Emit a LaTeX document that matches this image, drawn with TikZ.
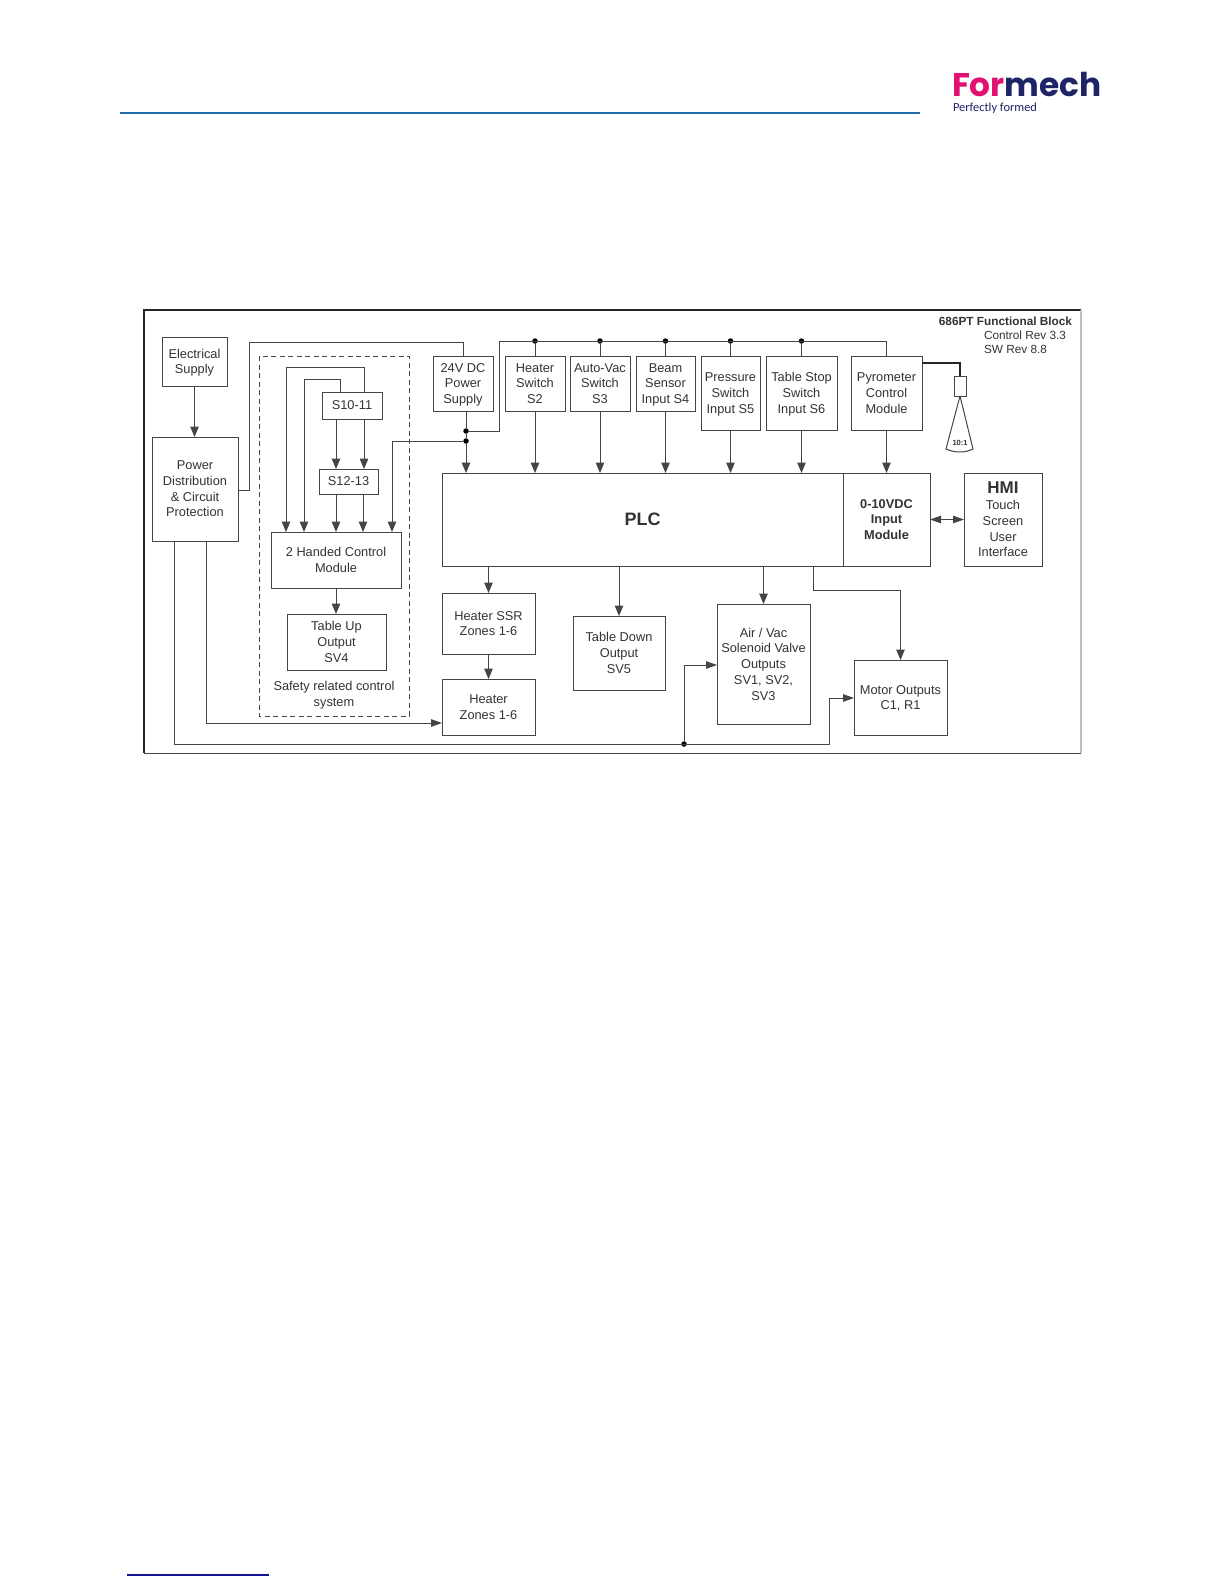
\documentclass[tikz,border=0pt]{standalone}
\usepackage{fontspec}
\setmainfont{Liberation Sans}
\newfontfamily\logofont{Poppins}
\newfontfamily\tagfont{Carlito}
\usepackage{xcolor}
\usetikzlibrary{arrows.meta,positioning,calc}
\definecolor{linegray}{gray}{0.27}
\definecolor{textgray}{gray}{0.2}
\definecolor{logopink}{HTML}{E2106F}
\definecolor{logonavy}{HTML}{1E2466}
\definecolor{headblue}{HTML}{1F6DAE}
\definecolor{footblue}{HTML}{12128C}

\begin{document}
\begin{tikzpicture}[
x=1pt,
y=-1pt,
every node/.style={font=\fontsize{12.8}{15.7}\selectfont,text=textgray},
block/.style={rectangle,draw=linegray,line width=1pt,fill=white,align=center,inner sep=0pt,outer sep=0pt,text depth=0pt},
plain/.style={align=center,inner sep=0pt,outer sep=0pt},
wire/.style={draw=linegray,line width=1pt},
arr/.style={wire,-{Triangle[length=10.5pt,width=8.5pt]}},
sidearr/.style={wire,-{Triangle[length=11pt,width=7.5pt]}},
dual/.style={wire,{Triangle[length=11pt,width=7.5pt]}-{Triangle[length=11pt,width=7.5pt]}},
dot/.style={circle,fill=black,inner sep=0pt,minimum size=5.5pt}
]
\useasboundingbox (0,0) rectangle (1224,1584);
\fill[white] (0,0) rectangle (1224,1584);

\coordinate (headl) at (120,113);
\coordinate (headr) at (920,113);
\coordinate (footl) at (127,1575);
\coordinate (footr) at (269,1575);
\draw[headblue,line width=1.5pt] (headl) -- (headr);
\draw[footblue,line width=1.1pt] (footl) -- (footr);
\node[plain,anchor=base west] (logo) at (952,97) {\fontsize{32.8}{33}\selectfont\logofont\bfseries\textcolor{logopink}{For}\textcolor{logonavy}{mech}};
\node[plain,anchor=base west] (tagline) at (953,112) {\fontsize{12.4}{13}\selectfont\tagfont\textcolor{logonavy}{Perfectly formed}};

\coordinate (frametl) at (144,310);
\coordinate (frametr) at (1081,310);
\coordinate (framebl) at (144,753);
\coordinate (framebr) at (1081,753);
\draw[black!85,line width=1.8pt] (framebl) -- (frametl) -- (frametr);
\draw[linegray,line width=1pt] (framebl) -- (framebr);
\draw[black!25,line width=1.5pt] (frametr) -- (framebr);

\node[plain,anchor=east] (title) at (1072,321) {\fontsize{11.8}{14}\selectfont\bfseries 686PT Functional Block};
\node[plain,anchor=west] (rev) at (984,335) {\fontsize{11.8}{14}\selectfont Control Rev 3.3};
\node[plain,anchor=west] (swrev) at (984,349) {\fontsize{11.8}{14}\selectfont SW Rev 8.8};

\node[block,minimum width=65pt,minimum height=49pt] (elec) at (194.5,361.5) {Electrical\\Supply};
\node[block,minimum width=86pt,minimum height=104pt] (power) at (195,489) {Power\\Distribution\\\& Circuit\\Protection};

\node[plain] (safety) at (334,695) {Safety related control\\system};
\node[block,minimum width=60pt,minimum height=27pt] (s10) at (352,405.5) {S10-11};
\node[block,minimum width=59pt,minimum height=25pt] (s12) at (348.5,481.5) {S12-13};
\node[block,minimum width=130pt,minimum height=56pt] (hand) at (336,560) {2 Handed Control\\Module};
\node[block,minimum width=99pt,minimum height=56pt] (tableup) at (336.5,642) {Table Up\\Output\\SV4};

\node[block,minimum width=60pt,minimum height=55pt] (psu) at (463,383.5) {24V DC\\Power\\Supply};
\node[block,minimum width=60pt,minimum height=55pt] (heater) at (535,383.5) {Heater\\Switch\\S2};
\node[block,minimum width=60pt,minimum height=55pt] (autovac) at (600,383.5) {Auto-Vac\\Switch\\S3};
\node[block,minimum width=59pt,minimum height=55pt] (beam) at (665.5,383.5) {Beam\\Sensor\\Input S4};
\node[block,minimum width=59pt,minimum height=74pt] (pressure) at (730.5,393) {Pressure\\Switch\\Input S5};
\node[block,minimum width=71pt,minimum height=74pt] (tablestop) at (801.5,393) {Table Stop\\Switch\\Input S6};
\node[block,minimum width=71pt,minimum height=74pt] (pyro) at (886.5,393) {Pyrometer\\Control\\Module};
\node[block,minimum width=12pt,minimum height=20pt] (sensor) at (960,386) {};
\coordinate (sensortop) at (960,363);

\node[block,minimum width=401pt,minimum height=93pt] (plc) at (642.5,519.5) {\fontsize{18}{20}\selectfont\bfseries PLC};
\node[block,minimum width=87pt,minimum height=93pt] (inmod) at (886.5,519.5) {\bfseries 0-10VDC\\\bfseries Input\\\bfseries Module};
\node[block,minimum width=78pt,minimum height=93pt] (hmi) at (1003,519.5) {{\fontsize{17}{16.5}\selectfont\bfseries HMI}\\Touch\\Screen\\User\\Interface};

\node[block,minimum width=93pt,minimum height=61pt] (ssr) at (488.5,623.5) {Heater SSR\\Zones 1-6};
\node[block,minimum width=93pt,minimum height=56pt] (zones) at (488.5,707) {Heater\\Zones 1-6};
\node[block,minimum width=92pt,minimum height=74pt] (tabledown) at (619,653) {Table Down\\Output\\SV5};
\node[block,minimum width=93pt,minimum height=120pt] (airvac) at (763.5,664) {Air / Vac\\Solenoid Valve\\Outputs\\SV1, SV2,\\SV3};
\node[block,minimum width=93pt,minimum height=75pt] (motor) at (900.5,697.5) {Motor Outputs\\C1, R1};

\node[dot] (jcta) at (466,431) {};
\node[dot] (jctb) at (466,441) {};
\node[dot] (jctc) at (684,744) {};
\node[dot] (stuba) at (535,341) {};
\node[dot] (stubb) at (600,341) {};
\node[dot] (stubc) at (665.5,341) {};
\node[dot] (stubd) at (730.5,341) {};
\node[dot] (stube) at (801.5,341) {};

\coordinate (safetl) at (259,356);
\coordinate (safebr) at (409,716);
\draw[linegray,line width=1pt,dash pattern=on 5pt off 3.5pt] (safetl) rectangle (safebr);

\coordinate (supplybend) at (249,342);
\coordinate (buscorner) at (499,341);
\coordinate (loopa) at (286,367);
\coordinate (loopb) at (304,379);
\coordinate (motorturn) at (813,590);
\coordinate (leftturn) at (174,744);
\coordinate (motorup) at (829,698);
\coordinate (valveup) at (684,665);
\coordinate (zoneturn) at (206,723);

\draw[arr] (elec.south) -- (elec.south |- power.north);
\draw[wire] (power.east |- 0,490) -| (supplybend) -| (psu.north);

\draw[wire] (psu.south -| jcta) -- (jcta) -- (jctb);
\draw[arr] (jctb) -- (jctb |- plc.north);
\draw[arr] (jctb) -| ([xshift=56pt]hand.north);
\draw[wire] (jcta) -| (buscorner) -- (pyro.north |- buscorner) -- (pyro.north);
\draw[wire] (stuba) -- (heater.north);
\draw[wire] (stubb) -- (autovac.north);
\draw[wire] (stubc) -- (beam.north);
\draw[wire] (stubd) -- (pressure.north);
\draw[wire] (stube) -- (tablestop.north);

\draw[wire] ([xshift=12pt]s10.north) |- (loopa);
\draw[arr] (loopa) -- (loopa |- hand.north);
\draw[wire] ([xshift=-12pt]s10.north) |- (loopb);
\draw[arr] (loopb) -- (loopb |- hand.north);
\draw[arr] ([xshift=-16pt]s10.south) -- ([xshift=-16pt]s10.south |- s12.north);
\draw[arr] ([xshift=12pt]s10.south) -- ([xshift=12pt]s10.south |- s12.north);
\draw[arr] ([xshift=-12.5pt]s12.south) -- ([xshift=-12.5pt]s12.south |- hand.north);
\draw[arr] ([xshift=14.5pt]s12.south) -- ([xshift=14.5pt]s12.south |- hand.north);
\draw[arr] (hand.south) -- (hand.south |- tableup.north);

\draw[arr] (heater.south) -- (heater.south |- plc.north);
\draw[arr] (autovac.south) -- (autovac.south |- plc.north);
\draw[arr] (beam.south) -- (beam.south |- plc.north);
\draw[arr] (pressure.south) -- (pressure.south |- plc.north);
\draw[arr] (tablestop.south) -- (tablestop.south |- plc.north);
\draw[arr] (pyro.south) -- (inmod.north);
\draw[dual] (inmod.east) -- (hmi.west);

\draw[line width=1.6pt,black!85] (pyro.east |- sensortop) -| (sensor.north);
\draw[wire] (sensor.south) -- (946,449) .. controls (955,453) and (965,453) .. (973,449) -- (sensor.south);
\node[plain] (ratio) at (960,443) {\fontsize{7.5}{8}\selectfont\bfseries 10:1};

\draw[arr] (ssr.north |- plc.south) -- (ssr.north);
\draw[arr] (ssr.south) -- (zones.north);
\draw[arr] (tabledown.north |- plc.south) -- (tabledown.north);
\draw[arr] (airvac.north |- plc.south) -- (airvac.north);
\draw[wire] (motorturn |- plc.south) -- (motorturn);
\draw[arr] (motorturn) -| (motor.north);

\draw[wire] (power.south -| leftturn) -- (leftturn) -| (motorup);
\draw[sidearr] (motorup) -- (motorup -| motor.west);
\draw[wire] (jctc) -- (valveup);
\draw[sidearr] (valveup) -- (valveup -| airvac.west);
\draw[wire] (power.south -| zoneturn) -- (zoneturn);
\draw[sidearr] (zoneturn) -- (zoneturn -| zones.west);
\end{tikzpicture}
\end{document}
